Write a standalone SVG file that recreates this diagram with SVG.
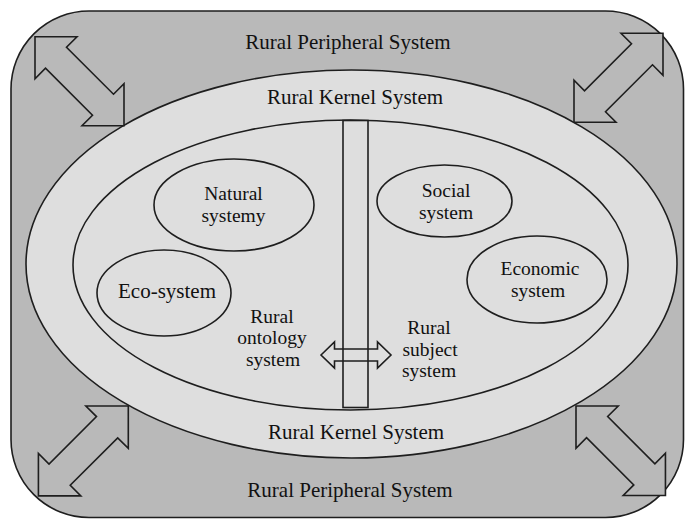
<svg xmlns="http://www.w3.org/2000/svg" width="685" height="519" viewBox="0 0 685 519">
  <style>
    .ln { stroke: #1e1e1e; stroke-width: 1.6; stroke-linejoin: miter; }
    .outer { fill: #b9b9b9; }
    .inner { fill: #dedede; }
    .none { fill: none; }
    text { font-family: "Liberation Serif", "Times New Roman", serif; font-size: 21px; fill: #111; text-anchor: middle; }
    .sm { font-size: 19.5px; }
  </style>
  <defs>
    <!-- diagonal double arrow: tips at (0,0) and (89,89) -->
    <path id="diag" d="M0,0 L42,0 L31.5,10.5 L78.5,57.5 L89,47 L89,89 L47,89 L57.5,78.5 L10.5,31.5 L0,42 Z"/>
  </defs>

  <rect width="685" height="519" fill="#ffffff"/>

  <g id="peripheral">
    <rect class="outer ln" x="11" y="11" width="672.5" height="506.5" rx="78" ry="78"/>
    <text x="348" y="49">Rural Peripheral System</text>
    <text x="350" y="497">Rural Peripheral System</text>
  </g>

  <g id="kernel">
    <ellipse class="inner ln" cx="351.5" cy="264" rx="325.5" ry="194"/>
    <text x="355" y="104">Rural Kernel System</text>
    <text x="356" y="439">Rural Kernel System</text>
  </g>

  <g id="core">
    <ellipse class="inner ln" cx="350.5" cy="265" rx="277.5" ry="145"/>
  </g>

  <g id="natural">
    <ellipse class="none ln" cx="234" cy="205" rx="80" ry="46"/>
    <text class="sm" x="233.5" y="200">Natural</text>
    <text class="sm" x="233.5" y="221.5">systemy</text>
  </g>

  <g id="eco">
    <ellipse class="none ln" cx="164" cy="293" rx="67" ry="43"/>
    <text x="167" y="298">Eco-system</text>
  </g>

  <g id="social">
    <ellipse class="none ln" cx="444.5" cy="201" rx="67.5" ry="36"/>
    <text class="sm" x="446" y="197">Social</text>
    <text class="sm" x="446" y="218.5">system</text>
  </g>

  <g id="economic">
    <ellipse class="none ln" cx="537" cy="279.5" rx="70" ry="43.5"/>
    <text class="sm" x="540" y="275">Economic</text>
    <text class="sm" x="538" y="296.5">system</text>
  </g>

  <g id="ontology">
    <text class="sm" x="272" y="322.5">Rural</text>
    <text class="sm" x="272" y="344">ontology</text>
    <text class="sm" x="273" y="365.5">system</text>
  </g>

  <g id="subject">
    <text class="sm" x="429" y="334">Rural</text>
    <text class="sm" x="430" y="355.5">subject</text>
    <text class="sm" x="429" y="377">system</text>
  </g>

  <g id="divider">
    <rect class="inner ln" x="343" y="120.5" width="25" height="287"/>
  </g>

  <g id="connectors">
    <use href="#diag" class="outer ln" transform="translate(35,36.7)"/>
    <use href="#diag" class="outer ln" transform="translate(663,33.3) scale(-1,1)"/>
    <use href="#diag" class="outer ln" transform="translate(128.3,406) scale(-1,1) scale(1.01)"/>
    <use href="#diag" class="outer ln" transform="translate(576,406) scale(1.005)"/>
    <path class="none ln" d="M321,355 L334.5,342 L334.5,349 L377.5,349 L377.5,342 L391,355 L377.5,368 L377.5,361 L334.5,361 L334.5,368 Z"/>
  </g>
</svg>
